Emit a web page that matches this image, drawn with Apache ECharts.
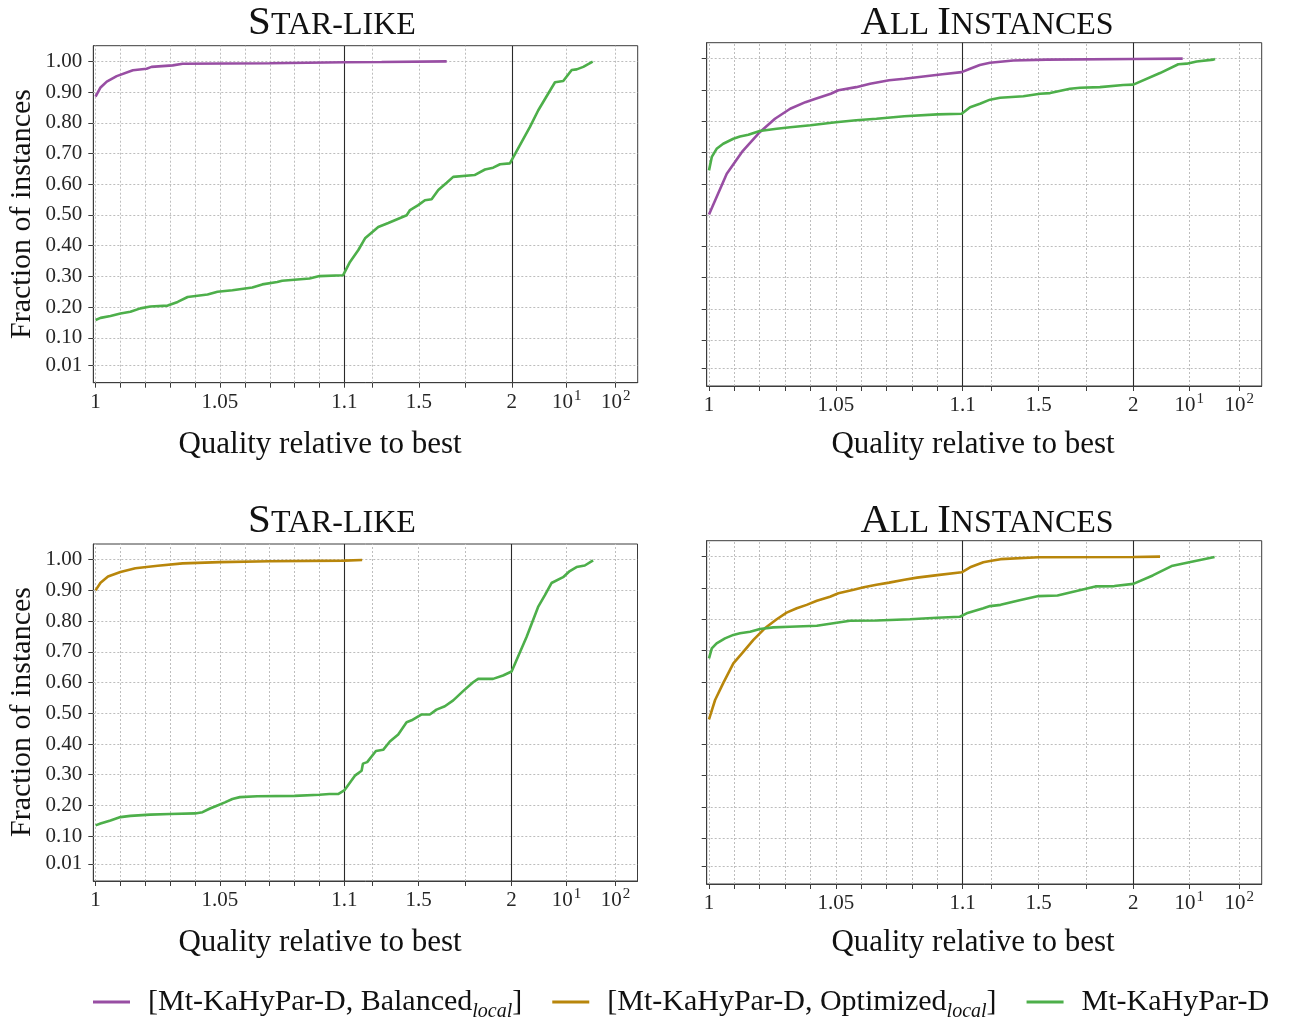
<!DOCTYPE html>
<html>
<head>
<meta charset="utf-8">
<script src="https://cdn.jsdelivr.net/npm/echarts@6/dist/echarts.min.js"></script>
<style>
  html, body { margin: 0; padding: 0; background: #fff; }
  #chart { width: 1293px; height: 1021px; }
</style>
</head>
<body>
<div id="chart"></div>
<script>
// ---- performance profile data: [quality ratio, fraction of instances] ----
const STAR_BALANCED = [
  [1.0,0.885],[1.002,0.915],[1.0045,0.934],[1.0085,0.952],[1.015,0.971],[1.0205,0.976],
  [1.0225,0.982],[1.031,0.987],[1.035,0.992],[1.07,0.994],[1.1,0.997],[1.3,0.998],[1.65,1.0]
];
const STAR_DEFAULT_TOP = [
  [1.0,0.158],[1.002,0.165],[1.006,0.171],[1.010,0.179],[1.014,0.185],[1.018,0.196],[1.022,0.202],
  [1.029,0.205],[1.033,0.217],[1.037,0.233],[1.045,0.241],[1.049,0.25],[1.055,0.255],[1.063,0.264],
  [1.067,0.274],[1.073,0.282],[1.075,0.286],[1.086,0.293],[1.09,0.301],[1.0995,0.304],[1.13,0.347],
  [1.175,0.386],[1.211,0.424],[1.282,0.461],[1.336,0.474],[1.435,0.499],[1.453,0.516],[1.497,0.532],
  [1.533,0.548],[1.569,0.551],[1.605,0.581],[1.65,0.605],[1.685,0.624],[1.80,0.630],[1.856,0.648],
  [1.90,0.654],[1.937,0.665],[1.99,0.668],[2.0,0.668],[3.41,0.787],[4.35,0.841],[7.1,0.932],
  [9.04,0.936],[12.65,0.972],[16.0,0.974],[21.8,0.982],[33.9,0.999]
];
const ALL_BALANCED = [
  [1.0,0.502],[1.0024,0.547],[1.007,0.632],[1.013,0.702],[1.020,0.765],[1.026,0.808],[1.032,0.84],
  [1.038,0.861],[1.042,0.872],[1.048,0.888],[1.051,0.899],[1.058,0.909],[1.0635,0.92],[1.071,0.931],
  [1.077,0.936],[1.0845,0.943],[1.092,0.95],[1.0996,0.957],[1.139,0.968],[1.19,0.98],[1.244,0.987],
  [1.367,0.994],[1.543,0.997],[2.0,0.999],[8.27,1.0]
];
const ALL_DEFAULT_TOP = [
  [1.0,0.643],[1.0011,0.686],[1.003,0.712],[1.0056,0.728],[1.0096,0.744],[1.0122,0.751],[1.0155,0.757],
  [1.020,0.769],[1.0267,0.776],[1.032,0.781],[1.040,0.787],[1.050,0.797],[1.058,0.803],[1.066,0.808],
  [1.077,0.816],[1.09,0.822],[1.0996,0.824],[1.139,0.845],[1.191,0.856],[1.244,0.869],[1.297,0.875],
  [1.42,0.88],[1.508,0.888],[1.561,0.89],[1.666,0.904],[1.719,0.907],[1.824,0.909],[1.947,0.916],
  [2.0,0.917],[4.31,0.954],[7.29,0.982],[9.28,0.984],[14.06,0.991],[30.2,0.997],[32.7,0.999]
];
const STAR_OPTIMIZED = [
  [1.0,0.90],[1.002,0.925],[1.005,0.945],[1.01,0.96],[1.016,0.972],[1.025,0.98],[1.035,0.988],
  [1.05,0.992],[1.07,0.995],[1.1,0.997],[1.196,0.999]
];
const STAR_DEFAULT_BOTTOM = [
  [1.0,0.135],[1.002,0.141],[1.006,0.151],[1.01,0.162],[1.014,0.166],[1.022,0.17],[1.03,0.172],
  [1.04,0.174],[1.043,0.178],[1.046,0.19],[1.049,0.2],[1.052,0.21],[1.055,0.221],[1.058,0.227],
  [1.065,0.23],[1.08,0.231],[1.09,0.235],[1.094,0.237],[1.0975,0.237],[1.1016,0.25],[1.157,0.297],
  [1.193,0.313],[1.2,0.336],[1.223,0.341],[1.27,0.377],[1.309,0.381],[1.345,0.408],[1.39,0.431],
  [1.435,0.471],[1.462,0.477],[1.516,0.496],[1.56,0.496],[1.596,0.512],[1.641,0.523],[1.686,0.542],
  [1.739,0.572],[1.793,0.601],[1.82,0.612],[1.90,0.612],[1.954,0.623],[2.0,0.636],[3.10,0.748],
  [4.35,0.846],[5.29,0.884],[6.44,0.924],[9.05,0.943],[11.68,0.963],[16.0,0.976],[23.6,0.981],[34.9,0.998]
];
const ALL_OPTIMIZED = [
  [1.0,0.48],[1.0024,0.542],[1.0056,0.596],[1.0096,0.659],[1.013,0.691],[1.0175,0.734],[1.022,0.771],
  [1.0267,0.80],[1.0306,0.821],[1.0346,0.835],[1.0385,0.846],[1.0425,0.859],[1.0477,0.872],[1.051,0.883],
  [1.057,0.894],[1.061,0.902],[1.066,0.91],[1.071,0.917],[1.077,0.926],[1.082,0.933],[1.09,0.941],
  [1.0996,0.95],[1.139,0.966],[1.209,0.982],[1.244,0.986],[1.3,0.992],[1.5,0.998],[2.0,0.999],[4.31,1.0]
];
const ALL_DEFAULT_BOTTOM = [
  [1.0,0.675],[1.0011,0.707],[1.003,0.723],[1.0063,0.739],[1.0096,0.75],[1.0122,0.755],[1.0162,0.76],
  [1.0201,0.769],[1.0253,0.774],[1.0319,0.776],[1.0425,0.779],[1.049,0.787],[1.0556,0.795],[1.0661,0.796],
  [1.0792,0.80],[1.0898,0.805],[1.0989,0.808],[1.121,0.819],[1.165,0.827],[1.209,0.835],[1.244,0.842],
  [1.3,0.846],[1.4,0.861],[1.5,0.874],[1.6,0.876],[1.7,0.89],[1.8,0.905],[1.9,0.906],[2.0,0.913],
  [3.5,0.94],[6,0.97],[10,0.982],[32,0.999]
];

// ---- axis ticks / labels ----
const X_MINOR_TICKS = [1,1.01,1.02,1.03,1.04,1.05,1.06,1.07,1.08,1.09,1.1,1.25,1.5,1.75,2,10,100];
const X_LABEL_VALUES = [1, 1.05, 1.1, 1.5, 2, 10, 100];
const X_LABEL_TEXT = ['1', '1.05', '1.1', '1.5', '2', '10^1', '10^2'];
const X_SEPARATORS = [1.1, 2];
const Y_TICKS = [0.01, 0.1, 0.2, 0.3, 0.4, 0.5, 0.6, 0.7, 0.8, 0.9, 1.0];

const SERIES_NAMES = {
  balanced: '[Mt-KaHyPar-D, Balanced_local]',
  optimized: '[Mt-KaHyPar-D, Optimized_local]',
  plain: 'Mt-KaHyPar-D'
};
const COLORS = { balanced: '#984ea3', optimized: '#b8860b', plain: '#4daf4a' };

// Piecewise x scale: [1,1.1] linear, [1.1,2] linear, [2,10] and [10,..] logarithmic
function xPos(r) {
  if (r <= 1.1) return (r - 1) / 0.1 * 253.7;
  if (r <= 2) return 253.7 + (r - 1.1) / 0.9 * 170.6;
  if (r <= 10) return 424.3 + Math.log(r / 2) / Math.log(5) * 56;
  return 480.3 + Math.log10(r / 10) * 50;
}
const X_MIN = -2.3, X_MAX = 552.7;
const Y_MIN = -0.046, Y_MAX = 1.051;

const SERIF = "'Liberation Serif', 'DejaVu Serif', serif";
const INK = '#262626';
const SPINE = '#3c3c3c';
const GRID_DOT = '#bdbdbd';

// tick label markup: base text plus a raised exponent (or an empty spacer of the same height)
function tickLabelRich(txt) {
  const parts = txt.split('^');
  return parts.length > 1 ? '{n|' + parts[0] + '}{p|' + parts[1] + '}' : '{n|' + txt + '}{z| }';
}

const panels = [
  { grid: { left: 93.3, top: 45.7, width: 544.4, height: 337 }, yLabels: true,
    lines: [['balanced', STAR_BALANCED], ['plain', STAR_DEFAULT_TOP]] },
  { grid: { left: 706.7, top: 42.7, width: 555, height: 343.3 }, yLabels: false,
    lines: [['balanced', ALL_BALANCED], ['plain', ALL_DEFAULT_TOP]] },
  { grid: { left: 93.3, top: 544, width: 544.2, height: 337 }, yLabels: true,
    lines: [['optimized', STAR_OPTIMIZED], ['plain', STAR_DEFAULT_BOTTOM]] },
  { grid: { left: 706.7, top: 540.7, width: 555, height: 343.3 }, yLabels: false,
    lines: [['optimized', ALL_OPTIMIZED], ['plain', ALL_DEFAULT_BOTTOM]] }
];

const grids = [], xAxes = [], yAxes = [], series = [];
panels.forEach((p, i) => {
  grids.push(Object.assign({ show: true, borderColor: SPINE, borderWidth: 1, backgroundColor: 'transparent' }, p.grid));
  xAxes.push({
    type: 'value', gridIndex: i, min: X_MIN, max: X_MAX, position: 'bottom',
    axisLine: { show: true, onZero: false, lineStyle: { color: SPINE, width: 1 } },
    splitLine: { show: false },
    axisTick: { show: true, inside: false, length: 5, customValues: X_MINOR_TICKS.map(xPos),
      lineStyle: { color: SPINE, width: 1 } },
    axisLabel: {
      show: true, margin: 6, customValues: X_LABEL_VALUES.map(xPos),
      fontFamily: SERIF, fontSize: 21, color: INK,
      rich: {
        n: { fontFamily: SERIF, fontSize: 21, color: INK, verticalAlign: 'bottom' },
        p: { fontFamily: SERIF, fontSize: 15, color: INK, verticalAlign: 'bottom', padding: [0, 0, 9, 1] },
        z: { fontFamily: SERIF, fontSize: 15, color: INK, verticalAlign: 'bottom', padding: [0, 0, 9, 0], width: 0 }
      },
      formatter: v => {
        for (let k = 0; k < X_LABEL_VALUES.length; k++) {
          if (Math.abs(xPos(X_LABEL_VALUES[k]) - v) < 0.01) return tickLabelRich(X_LABEL_TEXT[k]);
        }
        return '';
      }
    }
  });
  yAxes.push({
    type: 'value', gridIndex: i, min: Y_MIN, max: Y_MAX, position: 'left',
    axisLine: { show: true, onZero: false, lineStyle: { color: SPINE, width: 1 } },
    splitLine: { show: false },
    axisTick: { show: true, inside: false, length: 5, customValues: Y_TICKS,
      lineStyle: { color: SPINE, width: 1 } },
    axisLabel: { show: p.yLabels, margin: 11, customValues: Y_TICKS,
      fontFamily: SERIF, fontSize: 21, color: INK, formatter: v => v.toFixed(2) }
  });
  // dotted grid and the two segment separators
  const gridMarks = [];
  X_MINOR_TICKS.forEach(r => gridMarks.push({ xAxis: xPos(r), lineStyle: { color: GRID_DOT, type: [2, 2], width: 1 } }));
  Y_TICKS.forEach(v => gridMarks.push({ yAxis: v, lineStyle: { color: GRID_DOT, type: [2, 2], width: 1 } }));
  X_SEPARATORS.forEach(r => gridMarks.push({ xAxis: xPos(r), lineStyle: { color: '#2a2a2a', type: 'solid', width: 1.1 } }));
  series.push({
    type: 'line', xAxisIndex: i, yAxisIndex: i, data: [], silent: true, z: 1,
    markLine: { silent: true, symbol: 'none', animation: false, label: { show: false },
      emphasis: { disabled: true }, data: gridMarks }
  });
  p.lines.forEach(([key, pts]) => {
    series.push({
      name: SERIES_NAMES[key], type: 'line', xAxisIndex: i, yAxisIndex: i, z: 10,
      showSymbol: false, symbol: 'none', animation: false,
      lineStyle: { color: COLORS[key], width: 2.6 }, itemStyle: { color: COLORS[key] },
      data: pts.map(([r, f]) => [xPos(r), f])
    });
  });
});

function smallCaps(text) {
  // first letter of each word full size, the rest as small capitals
  return text.split(' ').map(w => '{b|' + w[0] + '}{s|' + w.slice(1).toUpperCase() + '}').join('{s| }');
}
const titleRich = {
  b: { fontFamily: SERIF, fontSize: 41, color: '#111', verticalAlign: 'bottom' },
  s: { fontFamily: SERIF, fontSize: 32, color: '#111', verticalAlign: 'bottom', padding: [0, 0, 2, 0] }
};
function textEl(x, y, text, opts) {
  return { type: 'text', x: x, y: y, silent: true,
    style: Object.assign({ text: text, fontFamily: SERIF, fill: '#111', align: 'center', verticalAlign: 'middle' }, opts || {}) };
}

const graphics = [
  textEl(332, 23, smallCaps('Star-like'), { rich: titleRich }),
  textEl(987, 23, smallCaps('All Instances'), { rich: titleRich }),
  textEl(332, 521, smallCaps('Star-like'), { rich: titleRich }),
  textEl(987, 521, smallCaps('All Instances'), { rich: titleRich }),
  textEl(320, 445, 'Quality relative to best', { fontSize: 31 }),
  textEl(973, 445, 'Quality relative to best', { fontSize: 31 }),
  textEl(320, 943, 'Quality relative to best', { fontSize: 31 }),
  textEl(973, 943, 'Quality relative to best', { fontSize: 31 }),
  Object.assign(textEl(0, 0, 'Fraction of instances', { fontSize: 30 }), { x: 22, y: 214, rotation: Math.PI / 2 }),
  Object.assign(textEl(0, 0, 'Fraction of instances', { fontSize: 30 }), { x: 22, y: 712, rotation: Math.PI / 2 })
];

const chart = echarts.init(document.getElementById('chart'), null, { renderer: 'canvas' });
chart.setOption({
  animation: false,
  backgroundColor: '#fff',
  grid: grids,
  xAxis: xAxes,
  yAxis: yAxes,
  series: series,
  graphic: graphics,
  legend: {
    left: 88, top: 982, itemGap: 30, itemWidth: 37, itemHeight: 3, icon: 'rect',
    data: [SERIES_NAMES.balanced, SERIES_NAMES.optimized, SERIES_NAMES.plain],
    formatter: name => {
      const m = name.match(/^(.*)_local\]$/);
      return m ? '{t|' + m[1] + '}{sub|local}{t|]}' : '{t|' + name + '}';
    },
    textStyle: {
      fontFamily: SERIF, fontSize: 30, color: '#111', padding: [0, 0, 0, 13],
      rich: {
        t: { fontFamily: SERIF, fontSize: 30, color: '#111', verticalAlign: 'bottom' },
        sub: { fontFamily: SERIF, fontSize: 20, fontStyle: 'italic', color: '#111', verticalAlign: 'bottom', padding: [0, 0, -5, 0] }
      }
    }
  }
});
</script>
</body>
</html>
